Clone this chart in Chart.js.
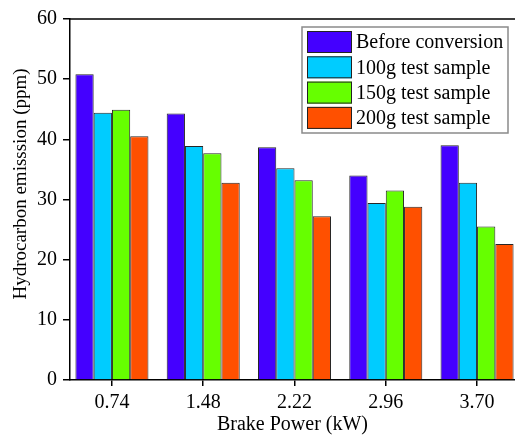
<!DOCTYPE html>
<html>
<head>
<meta charset="utf-8">
<script src="https://cdn.jsdelivr.net/npm/chart.js@4"></script>
<style>
  html, body { margin: 0; padding: 0; background: #fff; overflow: hidden; }
  #wrap { width: 525px; height: 441px; }
</style>
</head>
<body>
<div id="wrap"><canvas id="grafico" width="525" height="441"></canvas></div>
<script>
// potencias de freio (kW)
const potencias = [0.74, 1.48, 2.22, 2.96, 3.70];
const rotulos = ['0.74', '1.48', '2.22', '2.96', '3.70'];

const nomes = ['Before conversion', '100g test sample', '150g test sample', '200g test sample'];
const antes = [50.8, 44.3, 38.7, 34.0, 39.0];
const amostra100 = [44.4, 38.9, 35.2, 29.4, 32.8];
const amostra150 = [44.9, 37.7, 33.2, 31.5, 25.5];
const amostra200 = [40.5, 32.8, 27.2, 28.8, 22.6];

const yTicks = [0, 10, 20, 30, 40, 50, 60];

// violeta, ciano, verde, laranja
const cores = ['#4400FF', '#00CCFF', '#66FF00', '#FF5000'];

const fonte = 'Liberation Serif, Times New Roman, serif';

function pontos(valores) {
  return valores.map((v, i) => ({ x: potencias[i], y: v }));
}

const series = [antes, amostra100, amostra150, amostra200];

// legenda, borda de cima e titulos dos eixos
const enfeites = {
  id: 'enfeites',
  afterDraw(chart) {
    const ctx = chart.ctx;
    const a = chart.chartArea;
    ctx.save();
    ctx.strokeStyle = '#000';
    ctx.lineWidth = 1.5;
    ctx.beginPath();
    ctx.moveTo(a.left, a.top);
    ctx.lineTo(a.right, a.top);
    ctx.lineTo(a.right, a.bottom);
    ctx.stroke();

    // caixa da legenda
    ctx.strokeStyle = '#8a8a8a';
    ctx.lineWidth = 1.5;
    ctx.fillStyle = '#fff';
    ctx.fillRect(302, 27, 206, 106);
    ctx.strokeRect(302, 27, 206, 106);
    ctx.font = '20px ' + fonte;
    ctx.textBaseline = 'middle';
    ctx.textAlign = 'left';
    chart.data.datasets.forEach((ds, i) => {
      const y = 31 + i * 25.3;
      ctx.fillStyle = ds.backgroundColor;
      ctx.fillRect(307, y, 45, 22);
      ctx.strokeStyle = '#222';
      ctx.lineWidth = 1;
      ctx.strokeRect(307.5, y + 0.5, 44, 21);
      ctx.fillStyle = '#000';
      ctx.fillText(ds.label, 356, y + 12);
    });

    // titulos
    ctx.fillStyle = '#000';
    ctx.font = '20px ' + fonte;
    ctx.textAlign = 'center';
    ctx.textBaseline = 'middle';
    ctx.fillText('Brake Power (kW)', (a.left + a.right) / 2 - 2, 425);
    ctx.translate(21, 184);
    ctx.rotate(-Math.PI / 2);
    ctx.font = '19px ' + fonte;
    ctx.fillText('Hydrocarbon emisssion (ppm)', 0, 0);
    ctx.restore();
  }
};

const grafico = new Chart(document.getElementById('grafico'), {
  type: 'bar',
  data: {
    datasets: series.map((s, i) => ({
      label: nomes[i],
      data: pontos(s),
      backgroundColor: cores[i],
      borderColor: '#262626',
      borderWidth: 1,
      borderSkipped: 'bottom',
      barPercentage: 1.0,
      categoryPercentage: 0.8
    }))
  },
  options: {
    responsive: false,
    animation: false,
    devicePixelRatio: 1,
    layout: { padding: { top: 19, right: 6, left: 0, bottom: 0 } },
    plugins: {
      legend: { display: false },
      tooltip: { enabled: false }
    },
    scales: {
      x: {
        type: 'linear',
        min: 0.4,
        max: 4.04,
        offset: false,
        afterBuildTicks(scale) {
          scale.ticks = potencias.map(v => ({ value: v }));
        },
        afterFit(scale) { scale.height = 61; },
        ticks: {
          color: '#000',
          font: { family: fonte, size: 20 },
          padding: 5,
          maxRotation: 0,
          callback(value) {
            const i = potencias.indexOf(value);
            return i >= 0 ? rotulos[i] : '';
          }
        },
        grid: { offset: false, drawOnChartArea: false, color: '#000', lineWidth: 1.5, tickLength: 6 },
        border: { color: '#000', width: 1.5 }
      },
      y: {
        min: 0,
        max: 60,
        afterBuildTicks(scale) {
          scale.ticks = yTicks.map(v => ({ value: v }));
        },
        afterFit(scale) { scale.width = 70; },
        ticks: {
          color: '#000',
          font: { family: fonte, size: 20 },
          padding: 6
        },
        grid: { drawOnChartArea: false, color: '#000', lineWidth: 1.5, tickLength: 7 },
        border: { color: '#000', width: 1.5 }
      }
    }
  },
  plugins: [enfeites]
});
</script>
</body>
</html>
